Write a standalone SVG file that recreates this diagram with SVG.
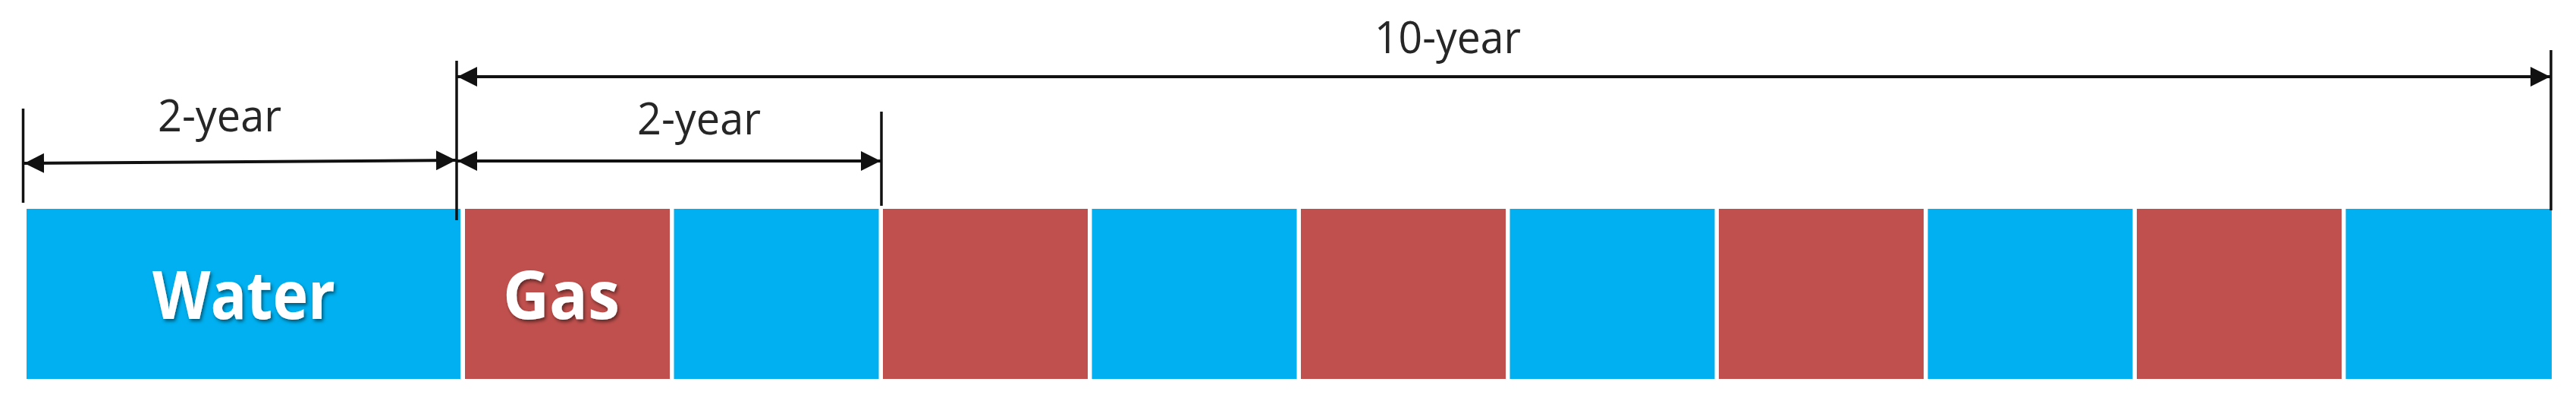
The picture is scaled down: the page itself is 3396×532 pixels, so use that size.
<svg xmlns="http://www.w3.org/2000/svg" width="3396" height="532" viewBox="0 0 3396 532">
  <style>
    .water { fill: #00B0F0; }
    .gas { fill: #C0504D; }
    .dim { stroke: #111; stroke-width: 4; fill: none; marker-start: url(#arr); marker-end: url(#arr); }
    .ext { stroke: #111; stroke-width: 3.5; fill: none; }
    .lbl { font-family: "Open Sans", "Liberation Sans", sans-serif; font-size: 59px; fill: #262626; }
    .big { font-family: "Open Sans", "Liberation Sans", sans-serif; font-size: 88px; font-weight: bold; fill: #ffffff; filter: url(#shadow); }
  </style>
  <defs>
    <marker id="arr" viewBox="0 0 26 26" refX="26" refY="13" markerWidth="26" markerHeight="26" markerUnits="userSpaceOnUse" orient="auto-start-reverse">
      <path d="M0,0 L26,13 L0,26 Z" fill="#111"/>
    </marker>
    <filter id="shadow" x="-10%" y="-20%" width="130%" height="150%">
      <feDropShadow dx="2" dy="3" stdDeviation="2" flood-color="#000" flood-opacity="0.5"/>
    </filter>
  </defs>
  <rect width="3396" height="532" fill="#ffffff"/>

  <g id="cells">
    <g id="water"><rect class="water" x="35" y="275" width="572" height="224"/><text class="big" x="201" y="420" textLength="241" lengthAdjust="spacingAndGlyphs">Water</text></g>
    <g id="gas1"><rect class="gas" x="613" y="275" width="270" height="224"/><text class="big" x="663" y="420" textLength="154" lengthAdjust="spacingAndGlyphs">Gas</text></g>
    <g id="water2"><rect class="water" x="888.5" y="275" width="270" height="224"/></g>
    <g id="gas2"><rect class="gas" x="1164" y="275" width="270" height="224"/></g>
    <g id="water3"><rect class="water" x="1439.5" y="275" width="270" height="224"/></g>
    <g id="gas3"><rect class="gas" x="1715" y="275" width="270" height="224"/></g>
    <g id="water4"><rect class="water" x="1990.5" y="275" width="270" height="224"/></g>
    <g id="gas4"><rect class="gas" x="2266" y="275" width="270" height="224"/></g>
    <g id="water5"><rect class="water" x="2541.5" y="275" width="270" height="224"/></g>
    <g id="gas5"><rect class="gas" x="2817" y="275" width="270" height="224"/></g>
    <g id="water6"><rect class="water" x="3092.5" y="275" width="271.5" height="224"/></g>
  </g>

  <g id="connectors">
    <line class="ext" x1="30.5" y1="143" x2="30.5" y2="267"/>
    <line class="ext" x1="602" y1="80" x2="602" y2="290"/>
    <line class="ext" x1="1162" y1="147" x2="1162" y2="271"/>
    <line class="ext" x1="3363" y1="66" x2="3363" y2="277"/>
    <line class="dim" x1="32" y1="215" x2="601" y2="211"/>
    <line class="dim" x1="603" y1="212" x2="1161" y2="212"/>
    <line class="dim" x1="603" y1="101" x2="3362" y2="101"/>
  </g>

  <g id="labels">
    <text class="lbl" x="208" y="173" textLength="163" lengthAdjust="spacingAndGlyphs">2-year</text>
    <text class="lbl" x="840" y="177" textLength="163" lengthAdjust="spacingAndGlyphs">2-year</text>
    <text class="lbl" x="1812" y="70" textLength="193" lengthAdjust="spacingAndGlyphs">10-year</text>
  </g>
</svg>
